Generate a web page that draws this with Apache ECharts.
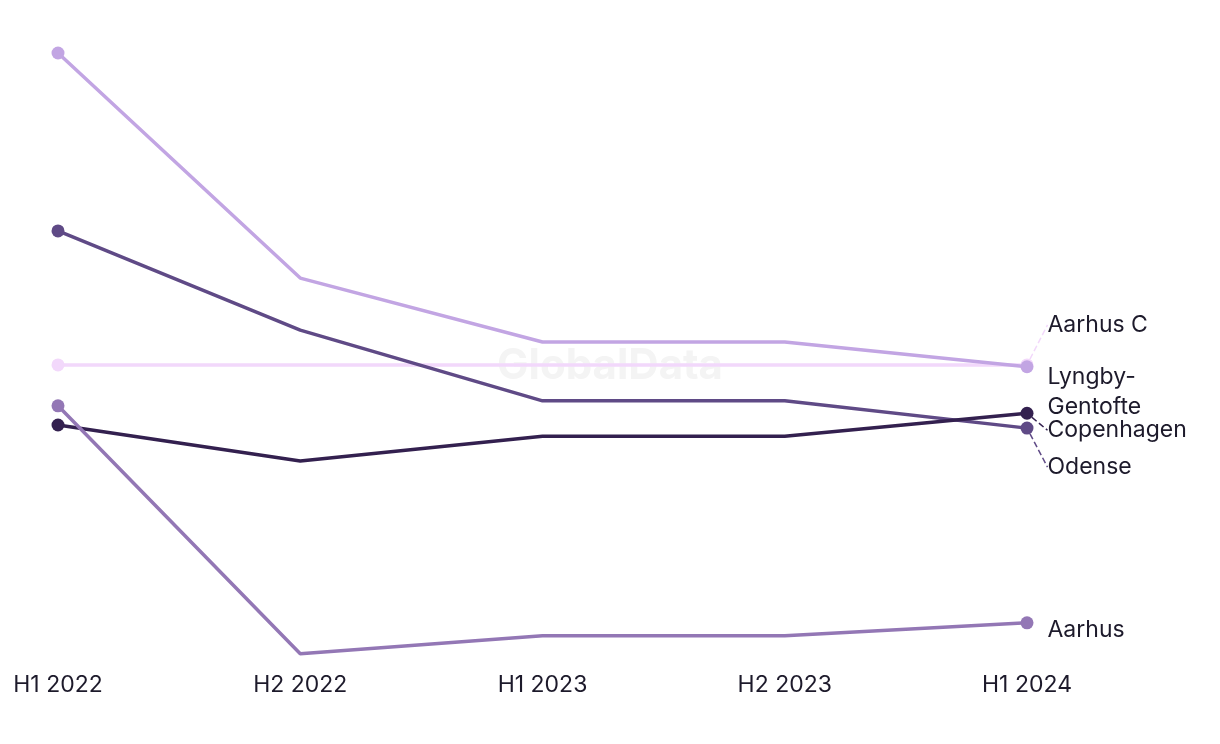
<!DOCTYPE html>
<html><head><meta charset="utf-8">
<script src="https://cdn.jsdelivr.net/npm/echarts@6/dist/echarts.min.js"></script>
<style>html,body{margin:0;padding:0;background:#fff}#c{width:1220px;height:744px}</style>
</head><body><div id="c"></div>
<script>
const categories = ['H1 2022','H2 2022','H1 2023','H2 2023','H1 2024'];
const aarhusC = [47.6, 47.6, 47.6, 47.6, 47.6];
const lyngby = [97.9, 61.6, 51.3, 51.3, 47.3];
const copenhagen = [37.9, 32.1, 36.1, 36.1, 39.8];
const odense = [69.2, 53.2, 41.8, 41.8, 37.4];
const aarhus = [41.0, 1.0, 3.9, 3.9, 6.0];

const FONT = 'Inter, "Open Sans", sans-serif';
function mk(name, data, color, dy, text, z, line) {
  const last = data.length - 1;
  const d = data.map((v, i) => {
    if (i === last) return {
      value: v,
      label: {show: true, position: 'right', distance: 14, formatter: text, color: '#1d1a2b',
        fontSize: 23, fontFamily: FONT, lineHeight: 30}
    };
    if (i === 0) return {value: v};
    return {value: v, symbol: 'none'};
  });
  return {
    name, type: 'line', data: d, z,
    symbol: 'circle', symbolSize: 13, showSymbol: true, showAllSymbol: true,
    lineStyle: {color, width: 3.5}, itemStyle: {color},
    emphasis: {disabled: true},
    labelLayout: {dy: dy},
    labelLine: {show: line, length2: 0, lineStyle: {color, width: 1.5, type: 'dashed'}}
  };
}
const chart = echarts.init(document.getElementById('c'), null, {renderer: 'canvas'});
chart.setOption({
  animation: false,
  grid: {left: 58, right: 193, top: 40, bottom: 84},
  graphic: [{type: 'text', left: 'center', top: 345, z: 0,
    style: {text: 'GlobalData', fill: '#f4f4f4', font: 'bold 42px ' + FONT}}],
  xAxis: {type: 'category', data: categories, boundaryGap: false,
    axisLine: {show: false}, axisTick: {show: false}, splitLine: {show: false},
    axisLabel: {color: '#1d1a2b', fontSize: 23, fontFamily: FONT, margin: 14}},
  yAxis: {type: 'value', min: 0, max: 100, show: false, splitLine: {show: false}},
  series: [
    mk('Aarhus C', aarhusC, '#f2d8fb', -40, 'Aarhus C', 2, true),
    mk('Lyngby-Gentofte', lyngby, '#c2a5e3', 25, 'Lyngby-\nGentofte', 3, false),
    mk('Odense', odense, '#5f4a86', 39, 'Odense', 4, true),
    mk('Copenhagen', copenhagen, '#33204f', 17, 'Copenhagen', 5, true),
    mk('Aarhus', aarhus, '#9377b5', 7, 'Aarhus', 6, false)
  ]
});
</script></body></html>
